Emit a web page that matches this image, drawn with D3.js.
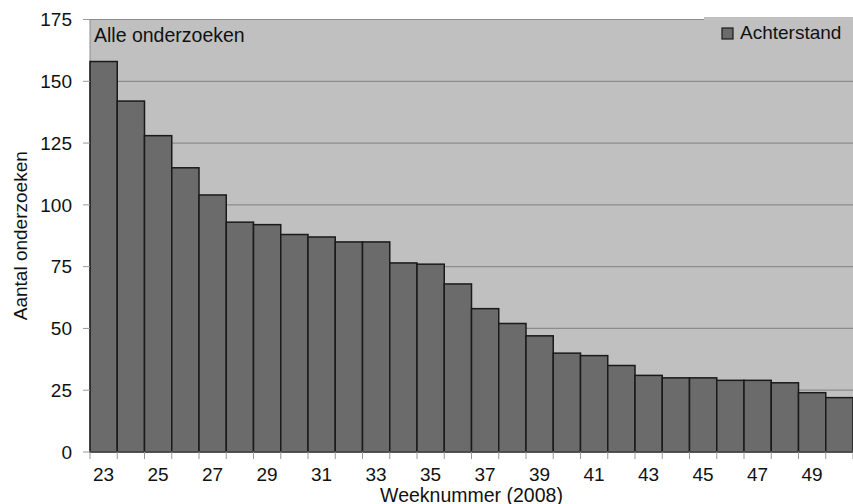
<!DOCTYPE html>
<html><head><meta charset="utf-8">
<script src="https://cdn.jsdelivr.net/npm/d3@7"></script>
<style>body{margin:0;background:#fff}svg{display:block}text{font-family:"Liberation Sans",Arial,sans-serif;fill:#111}</style>
</head><body>
<script>
const weeks = [23,24,25,26,27,28,29,30,31,32,33,34,35,36,37,38,39,40,41,42,43,44,45,46,47,48,49,50];
const achterstand = [158,142,128,115,104,93,92,88,87,85,85,76.5,76,68,58,52,47,40,39,35,31,30,30,29,29,28,24,22];
const yTicks = [0,25,50,75,100,125,150,175];
const xTickLabels = [23,25,27,29,31,33,35,37,39,41,43,45,47,49];

const W = 853, H = 504;
const m = {left:90, right:0, top:19.5, bottom:52};
const svg = d3.select("body").append("svg").attr("width", W).attr("height", H);
const iw = W - m.left - m.right, ih = H - m.top - m.bottom;
const g = svg.append("g").attr("transform", `translate(${m.left},${m.top})`);

const x = d3.scaleBand().domain(weeks).range([0, iw]).padding(0);
const y = d3.scaleLinear().domain([0,175]).range([ih, 0]);

g.append("rect").attr("width", iw).attr("height", ih).attr("fill", "#c0c0c0");

// gridlines
g.selectAll("line.grid").data(yTicks.filter(d=>d>0)).join("line")
  .attr("x1",0).attr("x2",iw).attr("y1",d=>y(d)).attr("y2",d=>y(d))
  .attr("stroke","#8c8c8c").attr("stroke-width",1.2);
g.append("line").attr("x1",0).attr("x2",0).attr("y1",0).attr("y2",ih).attr("stroke","#8c8c8c").attr("stroke-width",1);

// bars
g.selectAll("rect.bar").data(weeks).join("rect").attr("class","bar")
  .attr("x", d=>x(d)).attr("width", x.bandwidth())
  .attr("y", (d,i)=>y(achterstand[i])).attr("height", (d,i)=>ih - y(achterstand[i]))
  .attr("fill","#6b6b6b").attr("stroke","#1a1a1a").attr("stroke-width",1.5);

// x axis
const xAxis = g.append("g").attr("transform", `translate(0,${ih})`);
xAxis.append("line").attr("x1",0).attr("x2",iw).attr("y1",0).attr("y2",0).attr("stroke","#555").attr("stroke-width",1.5);
const bounds = weeks.map(w=>x(w)).concat([iw]);
xAxis.selectAll("line.tk").data(bounds).join("line")
  .attr("x1",d=>d).attr("x2",d=>d).attr("y1",0).attr("y2",7).attr("stroke","#999").attr("stroke-width",1);
xAxis.selectAll("text").data(xTickLabels).join("text")
  .attr("x", d=>x(d)+x.bandwidth()/2).attr("y", 28.5).attr("text-anchor","middle")
  .attr("font-size", 19).text(d=>d);

// y axis
const yAxis = g.append("g");
yAxis.selectAll("line").data(yTicks).join("line")
  .attr("x1",-7).attr("x2",0).attr("y1",d=>y(d)).attr("y2",d=>y(d)).attr("stroke","#999");
yAxis.selectAll("text").data(yTicks).join("text")
  .attr("x",-18).attr("y",d=>y(d)).attr("dy","0.36em").attr("text-anchor","end")
  .attr("font-size",19).text(d=>d);

// titles
svg.append("text").attr("x", m.left + iw/2).attr("y", 501.5).attr("text-anchor","middle")
  .attr("font-size",19.5).text("Weeknummer (2008)");
svg.append("text").attr("transform", `translate(27,${m.top+ih/2}) rotate(-90)`).attr("text-anchor","middle")
  .attr("font-size",19).text("Aantal onderzoeken");
svg.append("text").attr("x", 94).attr("y", 42).attr("font-size",19.5).text("Alle onderzoeken");

// legend
const lg = svg.append("g");
lg.append("rect").attr("x",704).attr("y",17).attr("width",149).attr("height",30).attr("fill","#c0c0c0");
lg.append("rect").attr("x",722).attr("y",28).attr("width",11).attr("height",11)
  .attr("fill","#6b6b6b").attr("stroke","#1a1a1a").attr("stroke-width",1.2);
lg.append("text").attr("x",740).attr("y",39).attr("font-size",19).text("Achterstand");
</script>
</body></html>
